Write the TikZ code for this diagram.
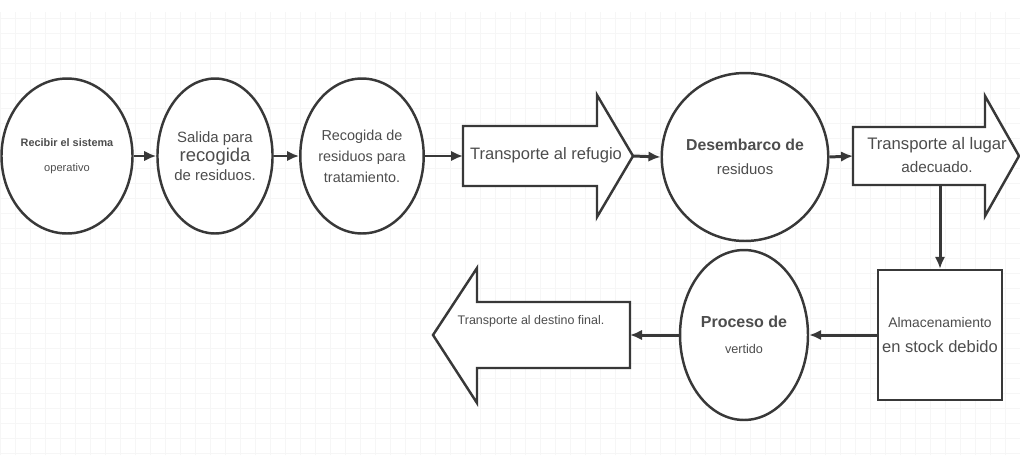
\documentclass[tikz,border=0pt]{standalone}
\usepackage{fontspec}
\setmainfont{Liberation Sans}
\usepackage{xcolor}
\usepackage{tikz}
\usetikzlibrary{shapes,positioning,arrows.meta}
\definecolor{lin}{HTML}{383838}
\definecolor{txt}{HTML}{4D4D4D}
\newcommand{\sz}[2]{\fontsize{#1}{#2}\selectfont}
\tikzset{ell/.style={ellipse,draw=lin,line width=1.4pt,fill=white,inner sep=0pt,align=center,text=txt},
         box/.style={rectangle,draw=lin,line width=1.4pt,fill=white,inner sep=0pt,align=center,text=txt},
         blk/.style={draw=lin,line width=1.4pt,fill=white,line join=miter},
         lbl/.style={inner sep=0pt,align=center,text=txt},
         flow/.style={draw=lin,line width=1.7pt,->}}

\begin{document}
\begin{tikzpicture}[x=0.02cm,y=0.02cm,>={Latex[length=2.4mm,width=2.1mm]}]
    \useasboundingbox (0,0) rectangle (1020,468);
    \fill[white] (0,0) rectangle (1020,468);
    \draw[gray!7,line width=0.3pt,step=0.3cm] (0,13) grid (1020,456);

    \draw[blk] (463,342) -- (597,342) -- (597,373) -- (633,312) coordinate (tr1tip) -- (597,251) -- (597,282) -- (463,282) -- cycle;
    \draw[blk] (853,341) -- (985,341) -- (985,372) -- (1019,312) -- (985,252) -- (985,283) -- (853,283) -- cycle;
    \draw[blk] (630,166) -- (477,166) -- (477,200) -- (433,133) -- (477,65) -- (477,100) -- (630,100) -- cycle;
    \coordinate (tr1in) at (463,312);
    \coordinate (tr2in) at (853,312);
    \coordinate (tr2out) at (940,283);
    \coordinate (tr3in) at (630,133);

    \node[ell,minimum width=2.24cm,minimum height=3.1cm,font=\sz{8}{14}] (e1)at (67,312) {{\sz{6.2}{14}\bfseries Recibir el sistema}\\{\sz{6.3}{14}operativo}};
    \node[ell,minimum width=2.2cm,minimum height=3.1cm,font=\sz{8.5}{10.8}] (e2)at (215,312) {Salida para\\{\sz{10.5}{10.8}recogida}\\de residuos.};
    \node[ell,minimum width=2.2cm,minimum height=3.1cm,font=\sz{8.2}{12}] (e3)at (362,312) {Recogida de\\residuos para\\tratamiento.};
    \node[lbl,font=\sz{9.4}{12}] (tr1)at (546,313) {Transporte al refugio};
    \node[ell,minimum width=2.52cm,minimum height=3.36cm,font=\sz{8.5}{13.6}] (e4)at (745,311) {{\bfseries\sz{9}{13.6}Desembarco de}\\residuos};
    \node[lbl,font=\sz{8.7}{13}] (tr2)at (937,313) {{\sz{9.5}{13}Transporte al lugar}\\adecuado.};
    \node[box,minimum width=2.48cm,minimum height=2.6cm,font=\sz{7.9}{14}] (stk)at (940,133) {Almacenamiento\\{\sz{9.4}{14}en stock debido}};
    \node[ell,minimum width=2.56cm,minimum height=3.4cm,font=\sz{7.2}{14.7}] (e5)at (744,133) {{\bfseries\sz{9.1}{14.7}Proceso de}\\vertido};
    \node[lbl,font=\sz{7.1}{10}] (tr3)at (531,147) {Transporte al destino final.};

    \draw [flow] (e1) to (e2);
    \draw [flow] (e2) to (e3);
    \draw [flow] (e3.east) to (tr1in);
    \draw [flow] (tr1tip) to (e4.west);
    \draw [flow] (e4.east) to (tr2in);
    \draw [flow] (tr2out) to (stk.north);
    \draw [flow] (stk.west) to (e5.east);
    \draw [flow] (e5.west) to (tr3in);
\end{tikzpicture}
\end{document}
